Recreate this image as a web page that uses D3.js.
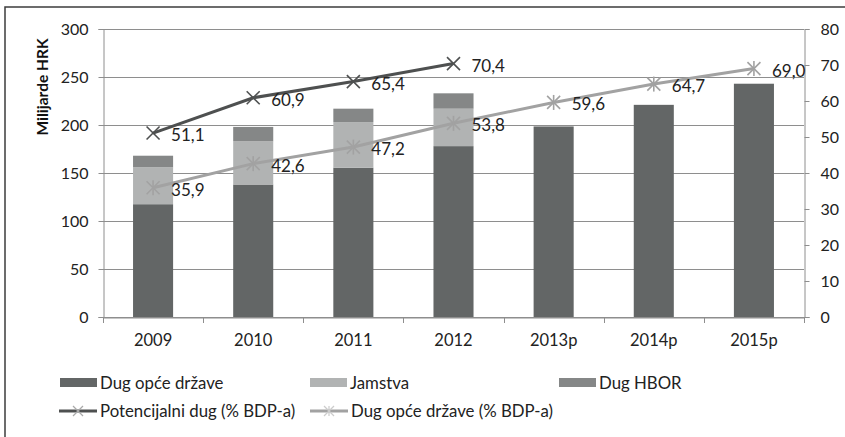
<!DOCTYPE html>
<html><head><meta charset="utf-8">
<script src="https://cdn.jsdelivr.net/npm/d3@7"></script>
<style>body{margin:0;background:#fff}svg{display:block;font-family:Lato,"Open Sans",sans-serif}</style>
</head><body><svg id="c" width="845" height="437"></svg>
<script>
const categories = ["2009","2010","2011","2012","2013p","2014p","2015p"];
const dugOpce = [117.5, 138, 155.5, 178, 198.5, 221, 243];
const jamstva = [38.5, 45, 47.5, 39, 0, 0, 0];
const dugHBOR = [12, 15, 14, 16, 0, 0, 0];
const potencijalniPct = [51.1, 60.9, 65.4, 70.4, null, null, null];
const dugOpcePct = [35.9, 42.6, 47.2, 53.8, 59.6, 64.7, 69.0];
const leftTicks = [0,50,100,150,200,250,300];
const rightTicks = [0,10,20,30,40,50,60,70,80];
const barNames = ["Dug opće države","Jamstva","Dug HBOR"];
const lineNames = ["Potencijalni dug (% BDP-a)","Dug opće države (% BDP-a)"];

const colors = {dug:"#636666", jam:"#b1b3b3", hbor:"#858787", dark:"#4e5050", light:"#a2a2a2"};
const svg = d3.select("#c");
const L = 103, R = 804, T = 29, B = 317;

// frame
svg.append("rect").attr("x",5).attr("y",7).attr("width",850).attr("height",450)
  .attr("fill","none").attr("stroke","#3c3c3c").attr("stroke-width",1.5);

const x = d3.scaleBand().domain(categories).range([L,R]).paddingInner(0.6).paddingOuter(0.3);
const xb = d3.scaleBand().domain(categories).range([L,R]);
const yL = d3.scaleLinear().domain([0,300]).range([B,T]);
const yR = d3.scaleLinear().domain([0,80]).range([B,T]);

// gridlines
svg.append("g").selectAll("line").data(leftTicks).join("line")
  .attr("x1",L).attr("x2",R).attr("y1",d=>Math.round(yL(d))+0.5).attr("y2",d=>Math.round(yL(d))+0.5)
  .attr("stroke","#8e8e8e").attr("stroke-width",1);

// stacked bars
const stackData = categories.map((c,i)=>({cat:c, dug:dugOpce[i], jam:jamstva[i], hbor:dugHBOR[i]}));
const series = d3.stack().keys(["dug","jam","hbor"])(stackData);
svg.append("g").selectAll("g").data(series).join("g").attr("fill",s=>colors[s.key])
  .selectAll("rect").data(s=>s.filter(d=>d[1]-d[0]>0)).join("rect")
  .attr("x",d=>x(d.data.cat)).attr("width",x.bandwidth())
  .attr("y",d=>yL(d[1])).attr("height",d=>yL(d[0])-yL(d[1]));

// axes
const axL = svg.append("g").attr("transform",`translate(${L+0.5},0)`)
  .call(d3.axisLeft(yL).tickValues(leftTicks).tickSize(5).tickPadding(10));
const axR = svg.append("g").attr("transform",`translate(${R+0.5},0)`)
  .call(d3.axisRight(yR).tickValues(rightTicks).tickSize(5).tickPadding(11));
const axB = svg.append("g").attr("transform",`translate(0,${B+0.5})`)
  .call(d3.axisBottom(xb).tickSize(0).tickPadding(17));
// category boundary ticks
svg.append("g").selectAll("line").data(categories.concat(["end"])).join("line")
  .attr("x1",(d,i)=>Math.round(L+i*xb.bandwidth())+0.5).attr("x2",(d,i)=>Math.round(L+i*xb.bandwidth())+0.5)
  .attr("y1",B).attr("y2",B+6).attr("stroke","#8e8e8e");
[axL,axR,axB].forEach(a=>{
  a.selectAll("path").attr("stroke","#8e8e8e");
  a.selectAll("line").attr("stroke","#8e8e8e");
  a.selectAll("text").attr("font-size",16).attr("fill","#222").attr("font-family","Lato,'Open Sans',sans-serif");
});
axB.selectAll("text").attr("font-size",16.5);

// y title
svg.append("text").attr("transform","translate(48,87) rotate(-90)").attr("text-anchor","middle")
  .attr("font-size",15.5).attr("font-weight","bold").attr("fill","#111").text("Milijarde HRK");

// lines
const cx = c => xb(c)+xb.bandwidth()/2;
function drawLine(vals,color,marker){
  const pts = categories.map((c,i)=>({c,v:vals[i]})).filter(d=>d.v!=null);
  svg.append("path").datum(pts).attr("fill","none").attr("stroke",color).attr("stroke-width",3)
    .attr("d",d3.line().x(d=>cx(d.c)).y(d=>yR(d.v)));
  const g = svg.append("g");
  pts.forEach(d=>{
    const px=cx(d.c), py=yR(d.v), s=6.5;
    const m=g.append("g").attr("stroke",color).attr("stroke-width",1.6);
    m.append("line").attr("x1",px-s).attr("y1",py-s).attr("x2",px+s).attr("y2",py+s);
    m.append("line").attr("x1",px-s).attr("y1",py+s).attr("x2",px+s).attr("y2",py-s);
    if(marker==="star") m.append("line").attr("x1",px).attr("y1",py-s-1).attr("x2",px).attr("y2",py+s+1);
    g.append("text").attr("x",px+18).attr("y",py+8).attr("font-size",17).attr("fill","#222")
      .text(d3.format(".1f")(d.v).replace(".",","));
  });
}
drawLine(dugOpcePct,colors.light,"star");
drawLine(potencijalniPct,colors.dark,"x");

// legend
const leg = svg.append("g").attr("font-size",16.8).attr("fill","#222");
const barLeg = [{n:barNames[0],c:colors.dug,x:60},{n:barNames[1],c:colors.jam,x:310},{n:barNames[2],c:colors.hbor,x:559}];
barLeg.forEach(d=>{
  leg.append("rect").attr("x",d.x).attr("y",378).attr("width",37).attr("height",9).attr("fill",d.c);
  leg.append("text").attr("x",d.x+40).attr("y",389).text(d.n);
});
const lineLeg = [{n:lineNames[0],c:colors.dark,x:59,m:"x"},{n:lineNames[1],c:colors.light,x:310,m:"star"}];
lineLeg.forEach(d=>{
  const yy=411;
  leg.append("line").attr("x1",d.x).attr("x2",d.x+38).attr("y1",yy).attr("y2",yy).attr("stroke",d.c).attr("stroke-width",3);
  const mx=d.x+19,s=5;
  const m=leg.append("g").attr("stroke",d.m==="x"?"#aaa":"#ccc").attr("stroke-width",1.2);
  m.append("line").attr("x1",mx-s).attr("y1",yy-s).attr("x2",mx+s).attr("y2",yy+s);
  m.append("line").attr("x1",mx-s).attr("y1",yy+s).attr("x2",mx+s).attr("y2",yy-s);
  if(d.m==="star") m.append("line").attr("x1",mx).attr("y1",yy-s).attr("x2",mx).attr("y2",yy+s);
  leg.append("text").attr("x",d.x+41).attr("y",yy+6).text(d.n);
});
</script></body></html>
